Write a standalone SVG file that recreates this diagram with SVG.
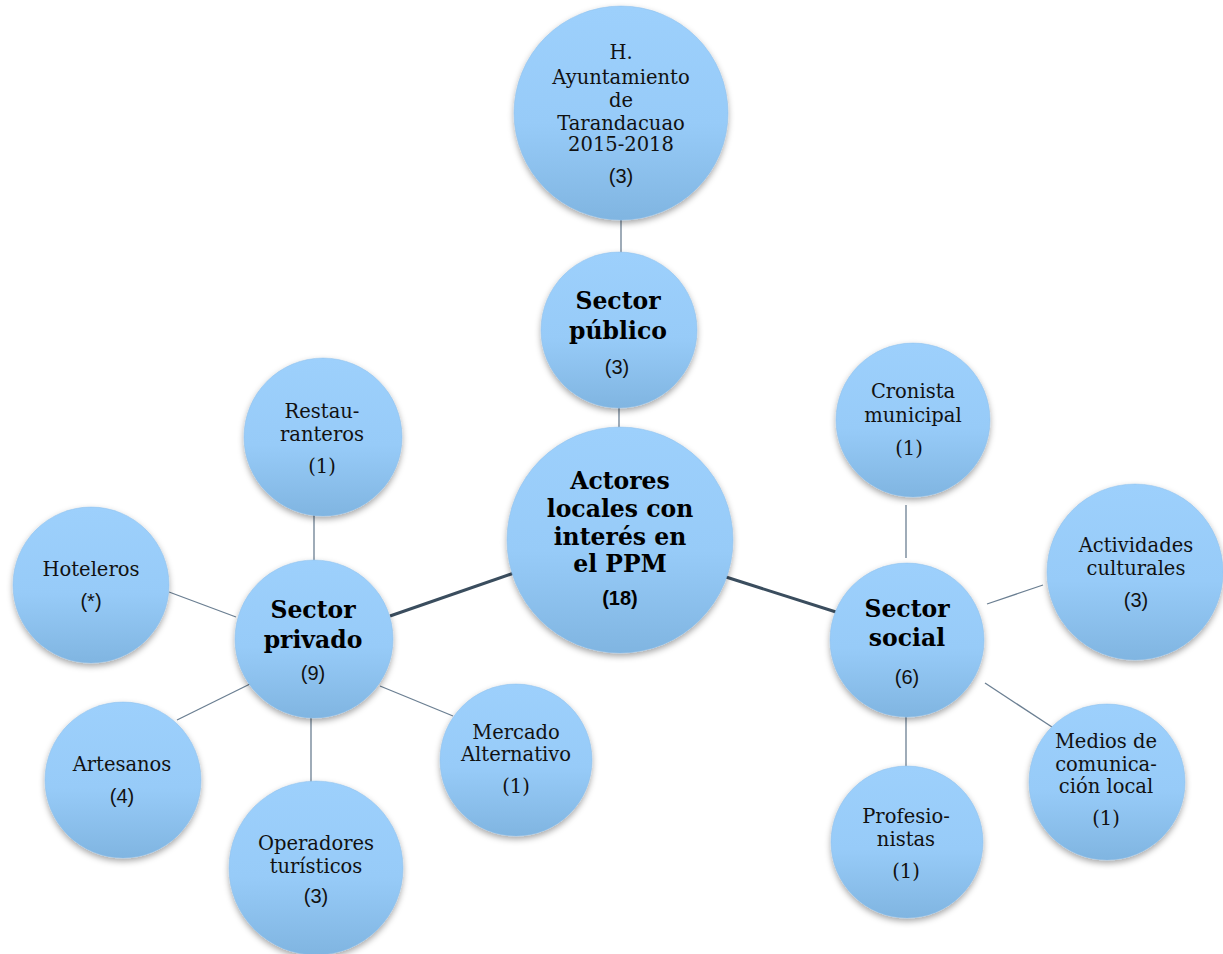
<svg xmlns="http://www.w3.org/2000/svg" width="1223" height="954" viewBox="0 0 1223 954">
<defs>
<linearGradient id="g" x1="0" y1="0" x2="0" y2="1">
<stop offset="0" stop-color="#9DD0FC"/>
<stop offset="0.55" stop-color="#97CBF8"/>
<stop offset="1" stop-color="#80B5E1"/>
</linearGradient>
<filter id="sh" x="-20%" y="-20%" width="140%" height="140%">
<feDropShadow dx="0" dy="3" stdDeviation="3" flood-color="#000" flood-opacity="0.35"/>
</filter>
<style>
.n{fill:url(#g);filter:url(#sh);stroke:#8DBFEA;stroke-width:0.5}
.t{font-family:"DejaVu Serif","Liberation Serif",serif;font-size:19.5px;fill:#111;text-anchor:middle}
.b{font-family:"DejaVu Serif","Liberation Serif",serif;font-size:23.5px;font-weight:bold;fill:#000;text-anchor:middle}
.s{font-family:"Liberation Sans",Arial,sans-serif;font-size:20px;fill:#111;text-anchor:middle}
.sb{font-family:"Liberation Sans",Arial,sans-serif;font-size:20px;font-weight:bold;fill:#000;text-anchor:middle}
.thick{stroke:#3A4D5E;stroke-width:3;fill:none}
.thin{stroke:#6B7F92;stroke-width:1.3;fill:none}
</style>
</defs>
<rect width="1223" height="954" fill="#fff"/>
<g id="connectors">
<line class="thin" x1="621" y1="218" x2="621" y2="257"/>
<line class="thin" x1="619" y1="404" x2="619" y2="432"/>
<line class="thick" x1="514" y1="573" x2="390" y2="616"/>
<line class="thick" x1="726" y1="577" x2="836" y2="612"/>
<line class="thin" x1="314" y1="515" x2="314" y2="563"/>
<line class="thin" x1="169" y1="592" x2="236" y2="617"/>
<line class="thin" x1="177" y1="720" x2="250" y2="684"/>
<line class="thin" x1="311" y1="716" x2="311" y2="786"/>
<line class="thin" x1="380" y1="686" x2="453" y2="716"/>
<line class="thin" x1="906" y1="505" x2="906" y2="558"/>
<line class="thin" x1="987" y1="604" x2="1043" y2="585"/>
<line class="thin" x1="985" y1="683" x2="1052" y2="727"/>
<line class="thin" x1="906" y1="716" x2="906" y2="768"/>
</g>
<g id="n-ayuntamiento">
<circle class="n" cx="621" cy="113" r="107"/>
<text class="t" x="621" y="59" font-size="22">H.</text>
<text class="t" x="621" y="84" font-size="22">Ayuntamiento</text>
<text class="t" x="621" y="107" font-size="22">de</text>
<text class="t" x="621" y="130" font-size="22">Tarandacuao</text>
<text class="t" x="621" y="151" font-size="22">2015-2018</text>
<text class="s" x="621" y="183">(3)</text>
</g>
<g id="n-publico">
<circle class="n" cx="619" cy="330" r="78"/>
<text class="b" x="618" y="309">Sector</text>
<text class="b" x="618" y="339">público</text>
<text class="s" x="617" y="374">(3)</text>
</g>
<g id="n-central">
<circle class="n" cx="620" cy="540" r="113"/>
<text class="b" x="620" y="489">Actores</text>
<text class="b" x="620" y="517">locales con</text>
<text class="b" x="620" y="545">interés en</text>
<text class="b" x="620" y="572">el PPM</text>
<text class="sb" x="620" y="605">(18)</text>
</g>
<g id="n-privado">
<circle class="n" cx="314" cy="639" r="79"/>
<text class="b" x="313" y="618">Sector</text>
<text class="b" x="313" y="648">privado</text>
<text class="s" x="313" y="680">(9)</text>
</g>
<g id="n-social">
<circle class="n" cx="907" cy="640" r="77"/>
<text class="b" x="907" y="617">Sector</text>
<text class="b" x="907" y="646">social</text>
<text class="s" x="907" y="684">(6)</text>
</g>
<g id="n-restauranteros">
<circle class="n" cx="323" cy="437" r="79"/>
<text class="t" x="322" y="418">Restau-</text>
<text class="t" x="322" y="441">ranteros</text>
<text class="t" x="322" y="473">(1)</text>
</g>
<g id="n-hoteleros">
<circle class="n" cx="91" cy="585" r="78"/>
<text class="t" x="91" y="576">Hoteleros</text>
<text class="s" x="91" y="608">(*)</text>
</g>
<g id="n-artesanos">
<circle class="n" cx="123" cy="780" r="78"/>
<text class="t" x="122" y="771">Artesanos</text>
<text class="s" x="122" y="803">(4)</text>
</g>
<g id="n-operadores">
<circle class="n" cx="316" cy="868" r="87"/>
<text class="t" x="316" y="850">Operadores</text>
<text class="t" x="316" y="873">turísticos</text>
<text class="s" x="316" y="903">(3)</text>
</g>
<g id="n-mercado">
<circle class="n" cx="516" cy="760" r="76"/>
<text class="t" x="516" y="739">Mercado</text>
<text class="t" x="516" y="761">Alternativo</text>
<text class="t" x="516" y="793">(1)</text>
</g>
<g id="n-cronista">
<circle class="n" cx="913" cy="420" r="77"/>
<text class="t" x="913" y="398">Cronista</text>
<text class="t" x="913" y="422">municipal</text>
<text class="t" x="909" y="455">(1)</text>
</g>
<g id="n-actividades">
<circle class="n" cx="1135" cy="572" r="88"/>
<text class="t" x="1136" y="552">Actividades</text>
<text class="t" x="1136" y="575">culturales</text>
<text class="s" x="1136" y="607">(3)</text>
</g>
<g id="n-medios">
<circle class="n" cx="1107" cy="782" r="78"/>
<text class="t" x="1106" y="748">Medios de</text>
<text class="t" x="1106" y="771">comunica-</text>
<text class="t" x="1106" y="793">ción local</text>
<text class="t" x="1106" y="825">(1)</text>
</g>
<g id="n-profesionistas">
<circle class="n" cx="907" cy="842" r="76"/>
<text class="t" x="906" y="823">Profesio-</text>
<text class="t" x="906" y="846">nistas</text>
<text class="t" x="906" y="878">(1)</text>
</g>
</svg>
